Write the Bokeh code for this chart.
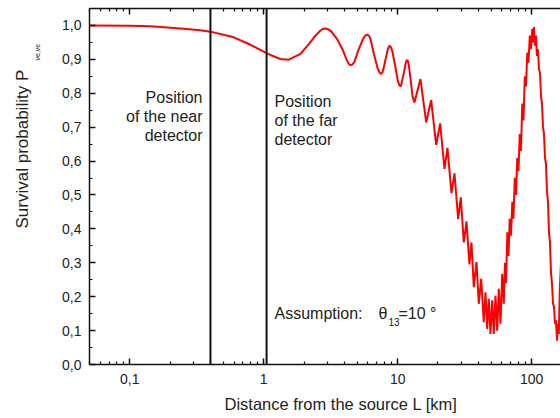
from bokeh.plotting import figure
from bokeh.models import (LogAxis, FixedTicker, CustomJSTickFormatter, Span, Label,
                          ColumnDataSource, Title)
from bokeh.embed import file_html
from bokeh.resources import INLINE

# ---------------- data ----------------
L_km = [0.05, 0.1, 0.143, 0.239, 0.337, 0.407, 0.597, 0.796, 1.042, 1.122, 1.332, 1.537,
        1.880, 2.168, 2.433, 2.651, 2.77, 2.890, 3.02, 3.203, 3.551, 3.870, 4.147, 4.30, 4.442,
        4.60, 4.758, 5.098, 5.506, 5.72, 5.918, 6.10, 6.265, 6.653, 7.127, 7.33, 7.530, 7.70,
        7.833, 8.107, 8.422, 8.58, 8.730, 8.90, 9.114, 9.579,
        10.05, 10.30, 10.49, 10.65, 10.77, 11.11, 11.44, 11.60, 11.78, 11.95, 12.15, 12.53,
        12.94, 13.35, 14.06, 14.80,
        15.54, 16.33, 17.04, 17.79, 18.57, 19.39, 20.07, 20.77, 21.54, 22.36, 22.95, 23.54,
        24.37, 25.23, 25.88, 26.56, 27.40, 28.30, 28.94, 29.60, 30.37, 31.17, 31.93, 32.65,
        33.50, 34.38, 35.58, 37.02, 38.78, 40.34, 42.04, 43.95, 45.26, 46.61, 47.91, 49.33,
        50.80, 52.22, 53.77, 55.36, 56.89, 58.58, 60.32, 62.00,
        63.3, 64.4, 65.9, 67.2, 68.7, 70.2, 71.8, 73.2, 74.9, 76.5, 78.2, 79.8, 81.6, 83.3,
        85.2, 87.0, 89.0, 90.8, 92.9, 94.8, 97.0, 99.0, 101.2, 102.8, 104.2, 106.0, 107.9,
        109.7, 111.6, 113.6,
        115.6, 117.6, 119.6, 121.7, 123.8, 125.9, 128.1, 130.3, 132.6, 134.9, 137.2, 139.6,
        142.0, 144.5, 147.0, 149.6, 152.1, 154.8, 157.5, 159.7, 162.4, 165.8]
P_ee = [1.000, 0.999, 0.998, 0.991, 0.986, 0.981, 0.965, 0.943, 0.919, 0.913, 0.901, 0.899,
        0.916, 0.945, 0.970, 0.985, 0.990, 0.991, 0.989, 0.982, 0.958, 0.930, 0.900, 0.887, 0.883,
        0.885, 0.893, 0.928, 0.960, 0.970, 0.973, 0.970, 0.960, 0.915, 0.870, 0.861, 0.857, 0.862,
        0.872, 0.899, 0.928, 0.937, 0.940, 0.936, 0.925, 0.881,
        0.835, 0.824, 0.820, 0.825, 0.835, 0.859, 0.885, 0.895, 0.898, 0.894, 0.880, 0.836,
        0.790, 0.773, 0.808, 0.842,
        0.778, 0.714, 0.747, 0.780, 0.714, 0.648, 0.680, 0.711, 0.644, 0.577, 0.608, 0.639,
        0.572, 0.505, 0.535, 0.564, 0.497, 0.429, 0.461, 0.493, 0.427, 0.360, 0.391, 0.422,
        0.358, 0.295, 0.360, 0.228, 0.302, 0.179, 0.253, 0.125, 0.213, 0.105, 0.194, 0.090,
        0.189, 0.090, 0.203, 0.100, 0.223, 0.120, 0.267, 0.179,
        0.30, 0.24, 0.39, 0.32, 0.43, 0.38, 0.48, 0.43, 0.55, 0.50, 0.61, 0.57, 0.68, 0.63,
        0.77, 0.72, 0.85, 0.82, 0.92, 0.89, 0.97, 0.93, 0.99, 0.95, 0.995, 0.94, 0.97,
        0.91, 0.93, 0.87,
        0.86, 0.79, 0.77, 0.70, 0.68, 0.61, 0.59, 0.51, 0.48, 0.39, 0.36, 0.27,
        0.24, 0.18, 0.17, 0.12, 0.13, 0.07, 0.12, 0.09, 0.22, 0.30]

near_detector_km = 0.4
far_detector_km = 1.05
theta13_deg = 10

x_major = [0.1, 1, 10, 100]
x_minor = [0.05, 0.06, 0.07, 0.08, 0.09, 0.2, 0.3, 0.4, 0.5, 0.6, 0.7, 0.8, 0.9,
           2, 3, 4, 5, 6, 7, 8, 9, 20, 30, 40, 50, 60, 70, 80, 90, 200]
y_major = [0.0, 0.1, 0.2, 0.3, 0.4, 0.5, 0.6, 0.7, 0.8, 0.9, 1.0]
y_minor = [0.05, 0.15, 0.25, 0.35, 0.45, 0.55, 0.65, 0.75, 0.85, 0.95, 1.05]

FONT = "Liberation Sans"
TXT = "#222222"

p = figure(width=560, height=418, x_axis_type="log",
           x_range=(0.05, 164.4), y_range=(0, 1.05),
           output_backend="svg", toolbar_location=None,
           min_border_left=89, min_border_right=0, min_border_top=8, min_border_bottom=54)
p.outline_line_color = None
p.xgrid.visible = False
p.ygrid.visible = False
p.background_fill_color = "white"
p.border_fill_color = "white"

src = ColumnDataSource(dict(L=L_km, P=P_ee))
p.line("L", "P", source=src, line_color="#ff0000", line_width=2)

for loc in (near_detector_km, far_detector_km):
    p.add_layout(Span(location=loc, dimension="height", line_color="#111111", line_width=2))

xticker = FixedTicker(ticks=x_major, minor_ticks=x_minor)
yticker = FixedTicker(ticks=y_major, minor_ticks=y_minor)
xfmt = CustomJSTickFormatter(code="if (tick < 1) { return tick.toFixed(1).replace('.', ','); } return tick.toFixed(0);")
yfmt = CustomJSTickFormatter(code="return tick.toFixed(1).replace('.', ',');")
nofmt = CustomJSTickFormatter(code="return '';")

def style_axis(ax):
    ax.axis_line_color = "#111111"
    ax.axis_line_width = 1.5
    ax.major_tick_line_color = "#111111"
    ax.minor_tick_line_color = "#111111"
    ax.major_tick_line_width = 1.5
    ax.minor_tick_line_width = 1.2
    ax.major_tick_in = 6
    ax.major_tick_out = 0
    ax.minor_tick_in = 3
    ax.minor_tick_out = 0
    ax.major_label_text_font = FONT
    ax.major_label_text_font_size = "14px"
    ax.major_label_text_color = TXT

xa = p.xaxis[0]
xa.ticker = xticker
xa.formatter = xfmt
style_axis(xa)
xa.major_label_standoff = 9

ya = p.yaxis[0]
ya.ticker = yticker
ya.formatter = yfmt
style_axis(ya)
ya.major_label_standoff = 8

top = LogAxis(ticker=xticker, formatter=nofmt)
style_axis(top)
top.major_label_text_font_size = "0px"
top.major_label_standoff = 0
p.add_layout(top, "above")

def title(text, side, offset, size, standoff=0):
    t = Title(text=text, align="left", offset=offset, standoff=standoff,
              vertical_align="bottom", text_font=FONT, text_font_size=size,
              text_font_style="normal", text_color=TXT)
    p.add_layout(t, side)

# axis titles (outside the frame)
title("\u00a0", "below", 0, "1px", standoff=3)          # spacer
title("Distance from the source L [km]", "below", 135, "16.5px")
title("\u00a0", "left", 0, "1px", standoff=16)          # spacer
title("\u03bde,\u03bde", "left", 304, "7px")
title("Survival probability P", "left", 136, "17px")

def lab(text, x, y, size="16px", align="left"):
    p.add_layout(Label(text=text, x=x, y=y, x_units="screen", y_units="screen",
                       text_font=FONT, text_font_size=size, text_color=TXT,
                       text_align=align, text_baseline="alphabetic"))

# screen units are measured from the frame's bottom-left corner (image 89, 364)
def sx(ix):
    return ix - 89
def sy(iy):
    return 364 - iy

lab("Position", sx(202), sy(97), align="right")
lab("of the near", sx(202), sy(116.2), align="right")
lab("detector", sx(202), sy(135.4), align="right")
lab("Position", sx(274), sy(100.8), align="left")
lab("of the far", sx(274), sy(120), align="left")
lab("detector", sx(274), sy(139.2), align="left")
lab("Assumption:", sx(274), sy(312.5), align="left")
lab("\u03b8", sx(378), sy(312.5), align="left")
lab("13", sx(388), sy(321.5), size="10px", align="left")
lab("=%d \u00b0" % theta13_deg, sx(398), sy(312.5), align="left")

open("out.html", "w").write(file_html(p, INLINE))
